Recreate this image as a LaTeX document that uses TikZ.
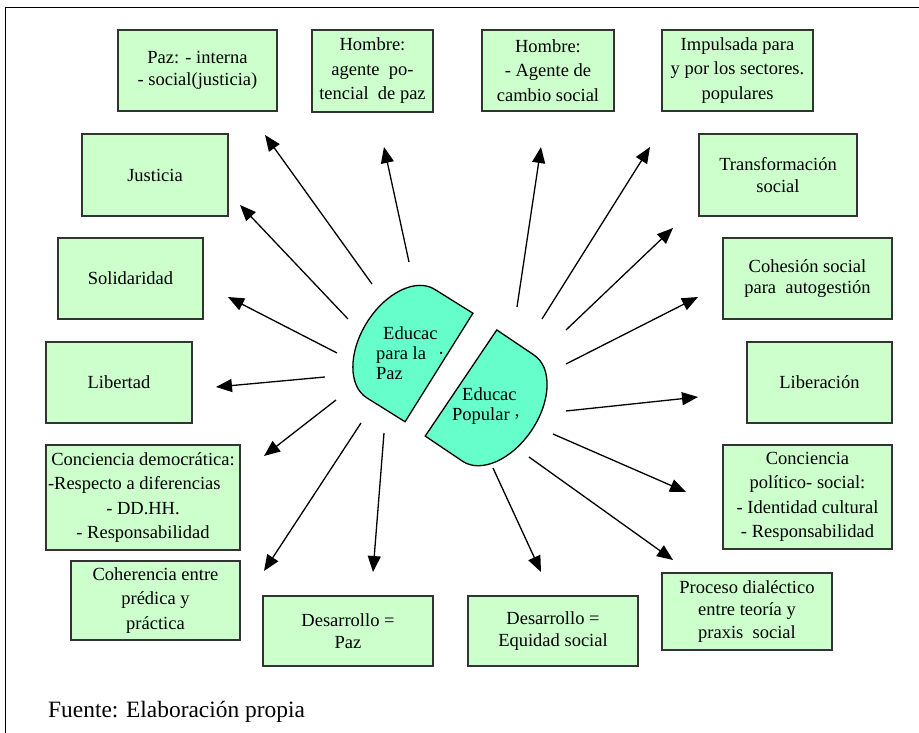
\documentclass[tikz,border=0pt]{standalone}
\usepackage{fontspec}
\setmainfont{Liberation Serif}
\usetikzlibrary{arrows.meta}
\definecolor{boxgreen}{HTML}{CCFFCC}
\definecolor{capsule}{HTML}{66FFCC}
\begin{document}
\begin{tikzpicture}[x=1pt,y=-1pt,
  box/.style={draw=black!80, line width=1.2pt, fill=boxgreen, align=center,
    inner sep=0pt, font=\fontsize{18.5}{21.7}\selectfont},
  tallbox/.style={box, font=\fontsize{18.5}{24.5}\selectfont},
  ray/.style={line width=1.3pt, -{Triangle[length=16pt,width=13pt]}},
  half/.style={draw=black, line width=1.3pt, fill=capsule},
  inner/.style={inner sep=0pt, align=left, anchor=west, font=\fontsize{18.5}{20}\selectfont}]

\useasboundingbox (0,0) rectangle (919,733);

% frame
\draw[line width=1pt] (5.5,733) -- (5.5,7.5) -- (919,7.5);

% the two halves in the middle
\begin{scope}[shift={(439,367.5)}, rotate=148]
  \draw[half] (0,-64) -- (45,-64) arc[start angle=-90, end angle=90, x radius=40, y radius=64] -- (0,64) -- cycle;
\end{scope}
\begin{scope}[shift={(461,383)}, rotate=-34]
  \draw[half] (0,-64) -- (45,-64) arc[start angle=-90, end angle=90, x radius=40, y radius=64] -- (0,64) -- cycle;
\end{scope}
\node[inner] (paz) at (376,353) {\hspace*{7pt}Educac\\para la\hspace{12pt}·\\Paz};
\node[inner] (popular) at (452,406) {\hspace*{10pt}Educac\\Popular\hspace{5pt}\raisebox{4pt}{,}};

% boxes, top row
\node[box, minimum width=159pt, minimum height=81pt] (b1) at (197.5,70.5) {Paz: - interna\\- social(justicia)};
\node[tallbox, minimum width=121pt, minimum height=82pt] (b2) at (372.5,71) {Hombre:\\agente\ \ po-\\tencial\ \ de paz};
\node[tallbox, minimum width=132pt, minimum height=81pt] (b3) at (548,70.5) {Hombre:\\- Agente de\\cambio social};
\node[tallbox, minimum width=151pt, minimum height=81pt] (b4) at (737.5,70.5) {Impulsada para\\y por los sectores.\\populares};

% left column
\node[box, minimum width=146pt, minimum height=82pt] (b5) at (155,175) {Justicia};
\node[box, minimum width=145pt, minimum height=81pt] (b6) at (130.5,278.5) {Solidaridad};
\node[box, minimum width=146pt, minimum height=81pt] (b7) at (119,382.5) {Libertad};
\node[tallbox, minimum width=194pt, minimum height=105pt] (b8) at (143,497.5)
  {Conciencia democrática:\\\makebox[190pt][l]{-Respecto a diferencias}\\- DD.HH.\\- Responsabilidad};
\node[tallbox, minimum width=169pt, minimum height=79pt] (b9) at (155.5,600.5) {Coherencia entre\\prédica y\\práctica};

% bottom row
\node[box, minimum width=170pt, minimum height=70pt] (b10) at (348,631) {Desarrollo =\\Paz};
\node[box, minimum width=170pt, minimum height=70pt] (b11) at (553,631) {Desarrollo =\\Equidad social};

% right column
\node[box, font=\fontsize{18.5}{22.5}\selectfont, minimum width=170pt, minimum height=77pt] (b12) at (747,611.5) {Proceso dialéctico\\entre teoría y\\praxis\ \ social};
\node[tallbox, minimum width=169pt, minimum height=104pt] (b13) at (807.5,497) {Conciencia\\político- social:\\- Identidad cultural\\- Responsabilidad};
\node[box, minimum width=145pt, minimum height=81pt] (b14) at (819.5,382.5) {Liberación};
\node[box, minimum width=169pt, minimum height=81pt] (b15) at (807.5,278.5) {Cohesión social\\para\ \ autogestión};
\node[box, minimum width=158pt, minimum height=82pt] (b16) at (778,175) {Transformación\\social};

% footer
\node[anchor=west, inner sep=0pt, font=\fontsize{23.4}{25}\selectfont] (src) at (48,712) {Fuente: Elaboración propia};

% ray ends
\coordinate (s1) at (372,284);  \coordinate (t1) at (265,135);
\coordinate (s2) at (409,262);  \coordinate (t2) at (384,147);
\coordinate (s3) at (348,319);  \coordinate (t3) at (240,205);
\coordinate (s4) at (337,353);  \coordinate (t4) at (228,297);
\coordinate (s5) at (325,377);  \coordinate (t5) at (216,387);
\coordinate (s6) at (336,400);  \coordinate (t6) at (264,456);
\coordinate (s7) at (361,423);  \coordinate (t7) at (264,571);
\coordinate (s8) at (384,433);  \coordinate (t8) at (373,572);
\coordinate (s9) at (493,468);  \coordinate (t9) at (541,572);
\coordinate (s10) at (529,457); \coordinate (t10) at (673,560);
\coordinate (s11) at (553,434); \coordinate (t11) at (686,492);
\coordinate (s12) at (566,411); \coordinate (t12) at (698,397);
\coordinate (s13) at (566,364); \coordinate (t13) at (698,297);
\coordinate (s14) at (566,330); \coordinate (t14) at (673,228);
\coordinate (s15) at (542,319); \coordinate (t15) at (650,147);
\coordinate (s16) at (517,307); \coordinate (t16) at (541,147);

\foreach \i in {1,...,16} { \draw[ray] (s\i) -- (t\i); }

\end{tikzpicture}
\end{document}
